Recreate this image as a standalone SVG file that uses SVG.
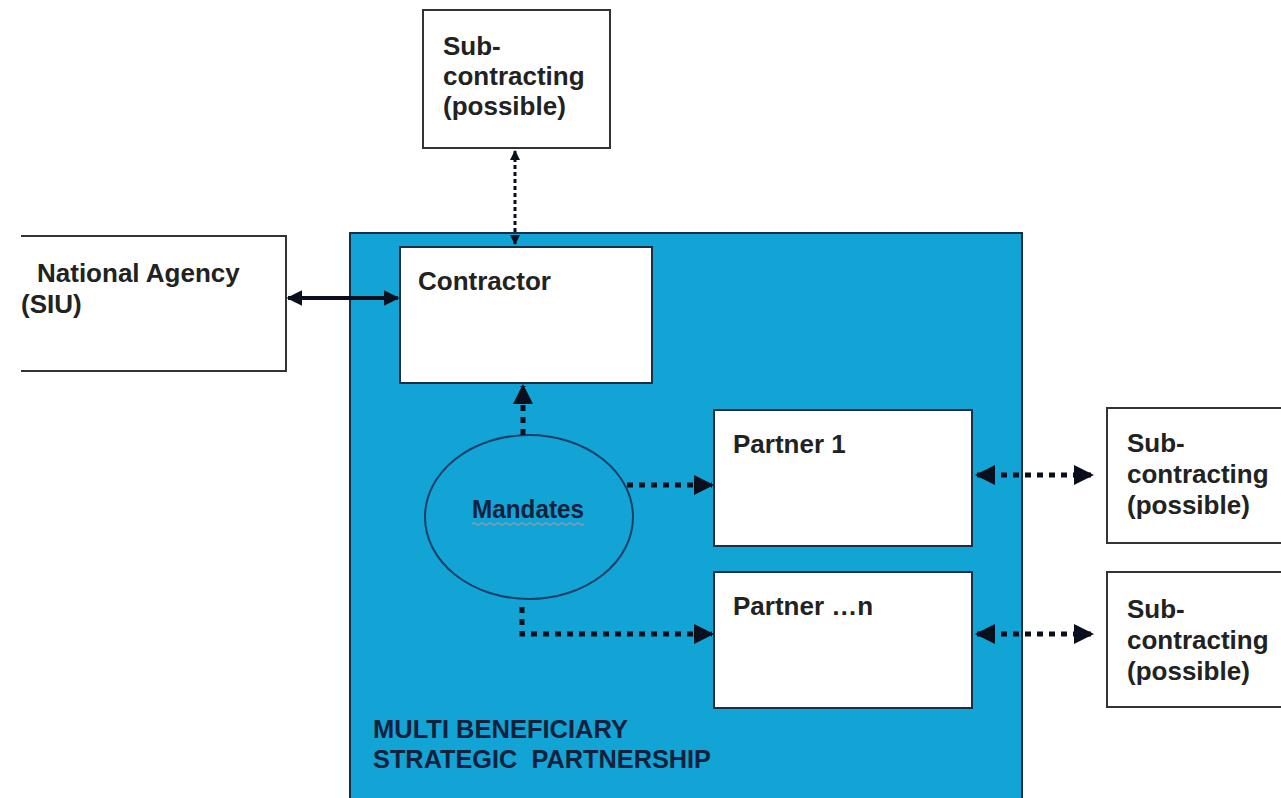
<svg xmlns="http://www.w3.org/2000/svg" width="1281" height="798" viewBox="0 0 1281 798">
<defs>
<style>
.box{fill:#fff;stroke:#333;stroke-width:2}
.t{font-family:"Liberation Sans",Arial,sans-serif;font-weight:bold;font-size:26px;fill:#222}
.dk{fill:#14213d}
.dot{stroke:#0a0f1e;stroke-width:5;stroke-dasharray:6,6;fill:none}
.dotv{stroke:#0a0f1e;stroke-width:3;stroke-dasharray:4,3;fill:none}
</style>
<marker id="ah" viewBox="0 0 10 10" refX="9" refY="5" markerWidth="4" markerHeight="4" orient="auto-start-reverse" markerUnits="strokeWidth"><path d="M0,0 L10,5 L0,10 z" fill="#0a0f1e"/></marker>
<marker id="ah3" viewBox="0 0 10 10" refX="9" refY="5" markerWidth="3.5" markerHeight="4.5" orient="auto-start-reverse" markerUnits="strokeWidth"><path d="M0,0 L10,5 L0,10 z" fill="#0a0f1e"/></marker>
</defs>
<rect width="1281" height="798" fill="#fff"/>
<g id="partnership">
<rect x="350" y="233" width="672" height="580" fill="#12a4d5" stroke="#17304a" stroke-width="2"/>
<text class="t dk" x="373" y="738" font-size="21" textLength="255" lengthAdjust="spacingAndGlyphs">MULTI BENEFICIARY</text>
<text class="t dk" x="373" y="768" font-size="21" textLength="338" lengthAdjust="spacingAndGlyphs" xml:space="preserve">STRATEGIC  PARTNERSHIP</text>
</g>
<g id="sub-top">
<rect class="box" x="423" y="10" width="187" height="138"/>
<text class="t" x="443" y="55">Sub-</text>
<text class="t" x="443" y="85">contracting</text>
<text class="t" x="443" y="115">(possible)</text>
</g>
<g id="national-agency">
<path d="M21,236 H286 V371 H21" fill="#fff" stroke="#333" stroke-width="2"/>
<text class="t" x="37" y="282">National Agency</text>
<text class="t" x="21" y="313">(SIU)</text>
</g>
<g id="contractor">
<rect x="400" y="247" width="252" height="136" fill="#fff" stroke="#1c2e44" stroke-width="2"/>
<text class="t" x="418" y="290">Contractor</text>
</g>
<g id="mandates">
<ellipse cx="529" cy="517" rx="104" ry="82" fill="#12a4d5" stroke="#1b3f66" stroke-width="2"/>
<text class="t dk" x="472" y="518" font-size="22" textLength="112" lengthAdjust="spacingAndGlyphs">Mandates</text>
<path d="M472,524 q2,-2 4,0 t4,0 t4,0 t4,0 t4,0 t4,0 t4,0 t4,0 t4,0 t4,0 t4,0 t4,0 t4,0 t4,0 t4,0 t4,0 t4,0 t4,0 t4,0 t4,0 t4,0 t4,0 t4,0 t4,0 t4,0 t4,0 t4,0 t4,0" fill="none" stroke="#8a9bb0" stroke-width="1.2"/>
</g>
<g id="partner-1">
<rect x="714" y="410" width="258" height="136" fill="#fff" stroke="#1c2e44" stroke-width="2"/>
<text class="t" x="733" y="453">Partner 1</text>
</g>
<g id="partner-n">
<rect x="714" y="572" width="258" height="136" fill="#fff" stroke="#1c2e44" stroke-width="2"/>
<text class="t" x="733" y="615">Partner …n</text>
</g>
<g id="sub-right-1">
<path d="M1281,408 H1107 V543 H1281" fill="#fff" stroke="#333" stroke-width="2"/>
<text class="t" x="1127" y="452">Sub-</text>
<text class="t" x="1127" y="483">contracting</text>
<text class="t" x="1127" y="514">(possible)</text>
</g>
<g id="sub-right-2">
<path d="M1281,572 H1107 V707 H1281" fill="#fff" stroke="#333" stroke-width="2"/>
<text class="t" x="1127" y="618">Sub-</text>
<text class="t" x="1127" y="649">contracting</text>
<text class="t" x="1127" y="680">(possible)</text>
</g>
<g id="connectors">
<line x1="288" y1="298" x2="398" y2="298" stroke="#0a0f1e" stroke-width="4" marker-start="url(#ah)" marker-end="url(#ah)"/>
<line class="dotv" x1="515" y1="151" x2="515" y2="244" marker-start="url(#ah3)" marker-end="url(#ah3)"/>
<path class="dot" d="M523,435 V386" marker-end="url(#ah)"/>
<path class="dot" d="M627,485 H712" marker-end="url(#ah)"/>
<path class="dot" d="M522,607 V634 H712" marker-end="url(#ah)"/>
<path class="dot" d="M977,475 H1092" marker-start="url(#ah)" marker-end="url(#ah)"/>
<path class="dot" d="M977,634 H1092" marker-start="url(#ah)" marker-end="url(#ah)"/>
</g>
</svg>
